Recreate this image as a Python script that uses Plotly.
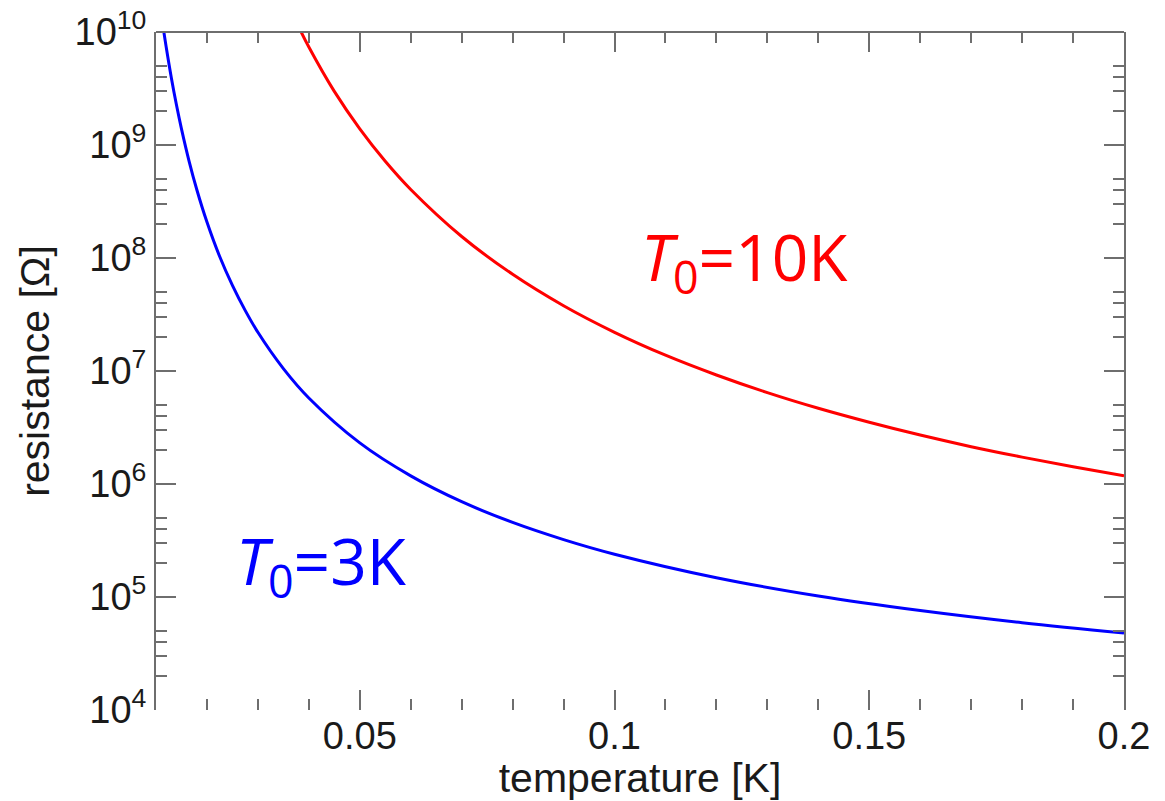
import plotly.graph_objects as go

# ---- data ----
temp_3K = [0.0115, 0.012, 0.013, 0.014, 0.015, 0.0165, 0.018, 0.02, 0.0225, 0.025, 0.0275,
           0.03, 0.035, 0.04, 0.05, 0.06, 0.07, 0.08, 0.09, 0.10, 0.12, 0.14, 0.16, 0.18, 0.20]
res_3K = [1.03e10, 7.36e9, 3.96e9, 2.28e9, 1.39e9, 7.18e8, 4.04e8, 2.08e8, 1.03e8, 5.72e7, 3.44e7,
          2.20e7, 1.05e7, 5.77e6, 2.31e6, 1.18e6, 6.97e5, 4.57e5, 3.22e5, 2.39e5, 1.48e5, 1.02e5,
          7.6e4, 5.93e4, 4.81e4]

temp_10K = [0.038, 0.04, 0.045, 0.05, 0.055, 0.06, 0.07, 0.08, 0.09, 0.10, 0.11, 0.12, 0.13,
            0.14, 0.15, 0.16, 0.17, 0.18, 0.19, 0.20]
res_10K = [1.11e10, 7.36e9, 2.98e9, 1.39e9, 7.18e8, 4.04e8, 1.55e8, 7.17e7, 3.78e7, 2.20e7,
           1.38e7, 9.22e6, 6.44e6, 4.68e6, 3.52e6, 2.71e6, 2.14e6, 1.73e6, 1.42e6, 1.18e6]

x_tickvals = [0.05, 0.1, 0.15, 0.2]
x_ticktext = ["0.05", "0.1", "0.15", "0.2"]
y_exponents = [4, 5, 6, 7, 8, 9, 10]
y_tickvals = [10 ** e for e in y_exponents]
y_ticktext = ["10<sup>%d</sup>" % e for e in y_exponents]
y_minor_mult = [2, 3, 4, 5]
y_minor_vals = [m * 10 ** e for e in y_exponents[:-1] for m in y_minor_mult]

AX = "#6e6e6e"
TXT = "#1a1a1a"
FONT = "Liberation Sans, Arial, sans-serif"

fig = go.Figure()
fig.add_trace(go.Scatter(x=temp_3K, y=res_3K, mode="lines", line=dict(color="#0000ff", width=3, shape="spline"),
                         name="T0=3K", showlegend=False))
fig.add_trace(go.Scatter(x=temp_10K, y=res_10K, mode="lines", line=dict(color="#ff0000", width=3, shape="spline"),
                         name="T0=10K", showlegend=False))

fig.update_layout(
    width=1165, height=801,
    margin=dict(l=156, r=41, t=32, b=91),
    paper_bgcolor="white", plot_bgcolor="white",
    font=dict(family=FONT, color=TXT),
    xaxis=dict(
        range=[0.01, 0.2], tickvals=x_tickvals, ticktext=x_ticktext,
        ticks="inside", ticklen=20, tickwidth=2, tickcolor=AX,
        minor=dict(dtick=0.01, tick0=0, ticks="inside", ticklen=11, tickwidth=2, tickcolor=AX, showgrid=False),
        showline=False, mirror="ticks", showgrid=False, zeroline=False,
        tickfont=dict(size=38, family=FONT, color=TXT),
        title=dict(text="temperature [K]", font=dict(size=41, family=FONT, color=TXT), standoff=4),
        automargin=False,
    ),
    yaxis=dict(
        type="log", range=[4, 10], tickvals=y_tickvals, ticktext=y_ticktext,
        ticks="inside", ticklen=20, tickwidth=2, tickcolor=AX,
        minor=dict(tickvals=y_minor_vals, ticks="inside", ticklen=11, tickwidth=2, tickcolor=AX, showgrid=False),
        showline=True, linecolor=AX, linewidth=2, mirror="ticks", showgrid=False, zeroline=False,
        tickfont=dict(size=38, family=FONT, color=TXT),
        title=dict(text="resistance [Ω]", font=dict(size=41, family=FONT, color=TXT), standoff=12),
        automargin=False,
    ),
    shapes=[dict(type="line", xref="paper", yref="paper", x0=0, x1=1, y0=1, y1=1,
                 line=dict(color=AX, width=2))],
    annotations=[
        dict(x=0.1255, y=7.98, xref="x", yref="y", showarrow=False,
             text="<i>T</i><sub>0</sub>=10K", font=dict(size=64, family="Open Sans", color="#ff0000")),
        dict(x=0.0424, y=5.29, xref="x", yref="y", showarrow=False,
             text="<i>T</i><sub>0</sub>=3K", font=dict(size=64, family="Open Sans", color="#0000ff")),
    ],
)

fig.write_html("out.html")
